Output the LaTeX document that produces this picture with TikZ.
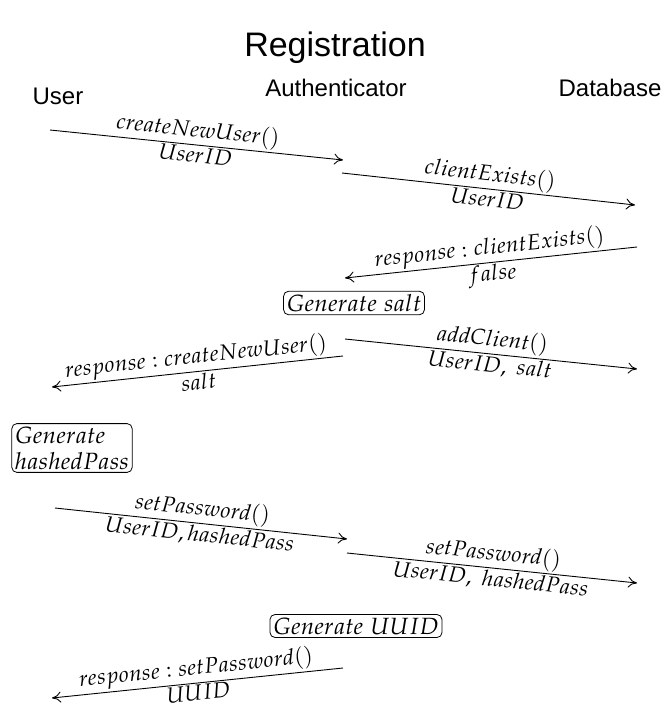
\documentclass[tikz,border=0pt]{standalone}
\usepackage{mathpazo}
\usepackage{fontspec}
\usetikzlibrary{arrows.meta}
\newfontfamily\headfont{Liberation Sans}
\begin{document}
\begin{tikzpicture}[x=1pt,y=-1pt,
  msg/.style={-{Computer Modern Rightarrow[length=9pt,width=11pt]}, line width=0.9pt},
  rmsg/.style={{Computer Modern Rightarrow[length=9pt,width=11pt]}-, line width=0.9pt},
  lab/.style={sloped, inner sep=1.8pt, font=\fontsize{22}{24}\selectfont},
  actor/.style={font=\headfont\fontsize{24}{26}\selectfont},
  task/.style={draw, rounded corners=5pt, line width=0.8pt, inner sep=3pt,
               font=\fontsize{23.5}{26}\selectfont, align=left}]
\useasboundingbox (0,0) rectangle (664,711);

% heading and participants
\node[font=\headfont\fontsize{34}{36}\selectfont] (title) at (335,48) {Registration};
\node[actor] (user) at (58,96) {User};
\node[actor] (auth) at (336,88) {Authenticator};
\node[actor] (db) at (610,88) {Database};

% message end points
\coordinate (m1s) at (50,130);  \coordinate (m1e) at (343,160);
\coordinate (m2s) at (342,173); \coordinate (m2e) at (635,205);
\coordinate (m3s) at (637,247); \coordinate (m3e) at (345,278);
\coordinate (m4s) at (345,339); \coordinate (m4e) at (637,369);
\coordinate (m5s) at (343,356); \coordinate (m5e) at (52,387);
\coordinate (m6s) at (55,508);  \coordinate (m6e) at (347,539);
\coordinate (m7s) at (347,553); \coordinate (m7e) at (637,583);
\coordinate (m8s) at (343,668); \coordinate (m8e) at (52,698);

% local work
\node[task] (salt) at (354,303) {$Generate\ salt$};
\node[task] (hash) at (72,448) {$Generate$\\$hashedPass$};
\node[task] (uuid) at (356,626) {$Generate\ UUID$};

% messages
\draw[msg] (m1s) -- node[lab, above] {$createNewUser()$}
                    node[lab, below] {$UserID$} (m1e);
\draw[msg] (m2s) -- node[lab, above] {$clientExists()$}
                    node[lab, below] {$UserID$} (m2e);
\draw[rmsg] (m3e) -- node[lab, above] {$response : clientExists()$}
                     node[lab, below] {$false$} (m3s);
\draw[msg] (m4s) -- node[lab, above] {$addClient()$}
                    node[lab, below] {$UserID,\ salt$} (m4e);
\draw[rmsg] (m5e) -- node[lab, above] {$response : createNewUser()$}
                     node[lab, below] {$salt$} (m5s);
\draw[msg] (m6s) -- node[lab, above] {$setPassword()$}
                    node[lab, below] {$UserID, hashedPass$} (m6e);
\draw[msg] (m7s) -- node[lab, above] {$setPassword()$}
                    node[lab, below] {$UserID,\ hashedPass$} (m7e);
\draw[rmsg] (m8e) -- node[lab, above] {$response : setPassword()$}
                     node[lab, below] {$UUID$} (m8s);
\end{tikzpicture}
\end{document}
